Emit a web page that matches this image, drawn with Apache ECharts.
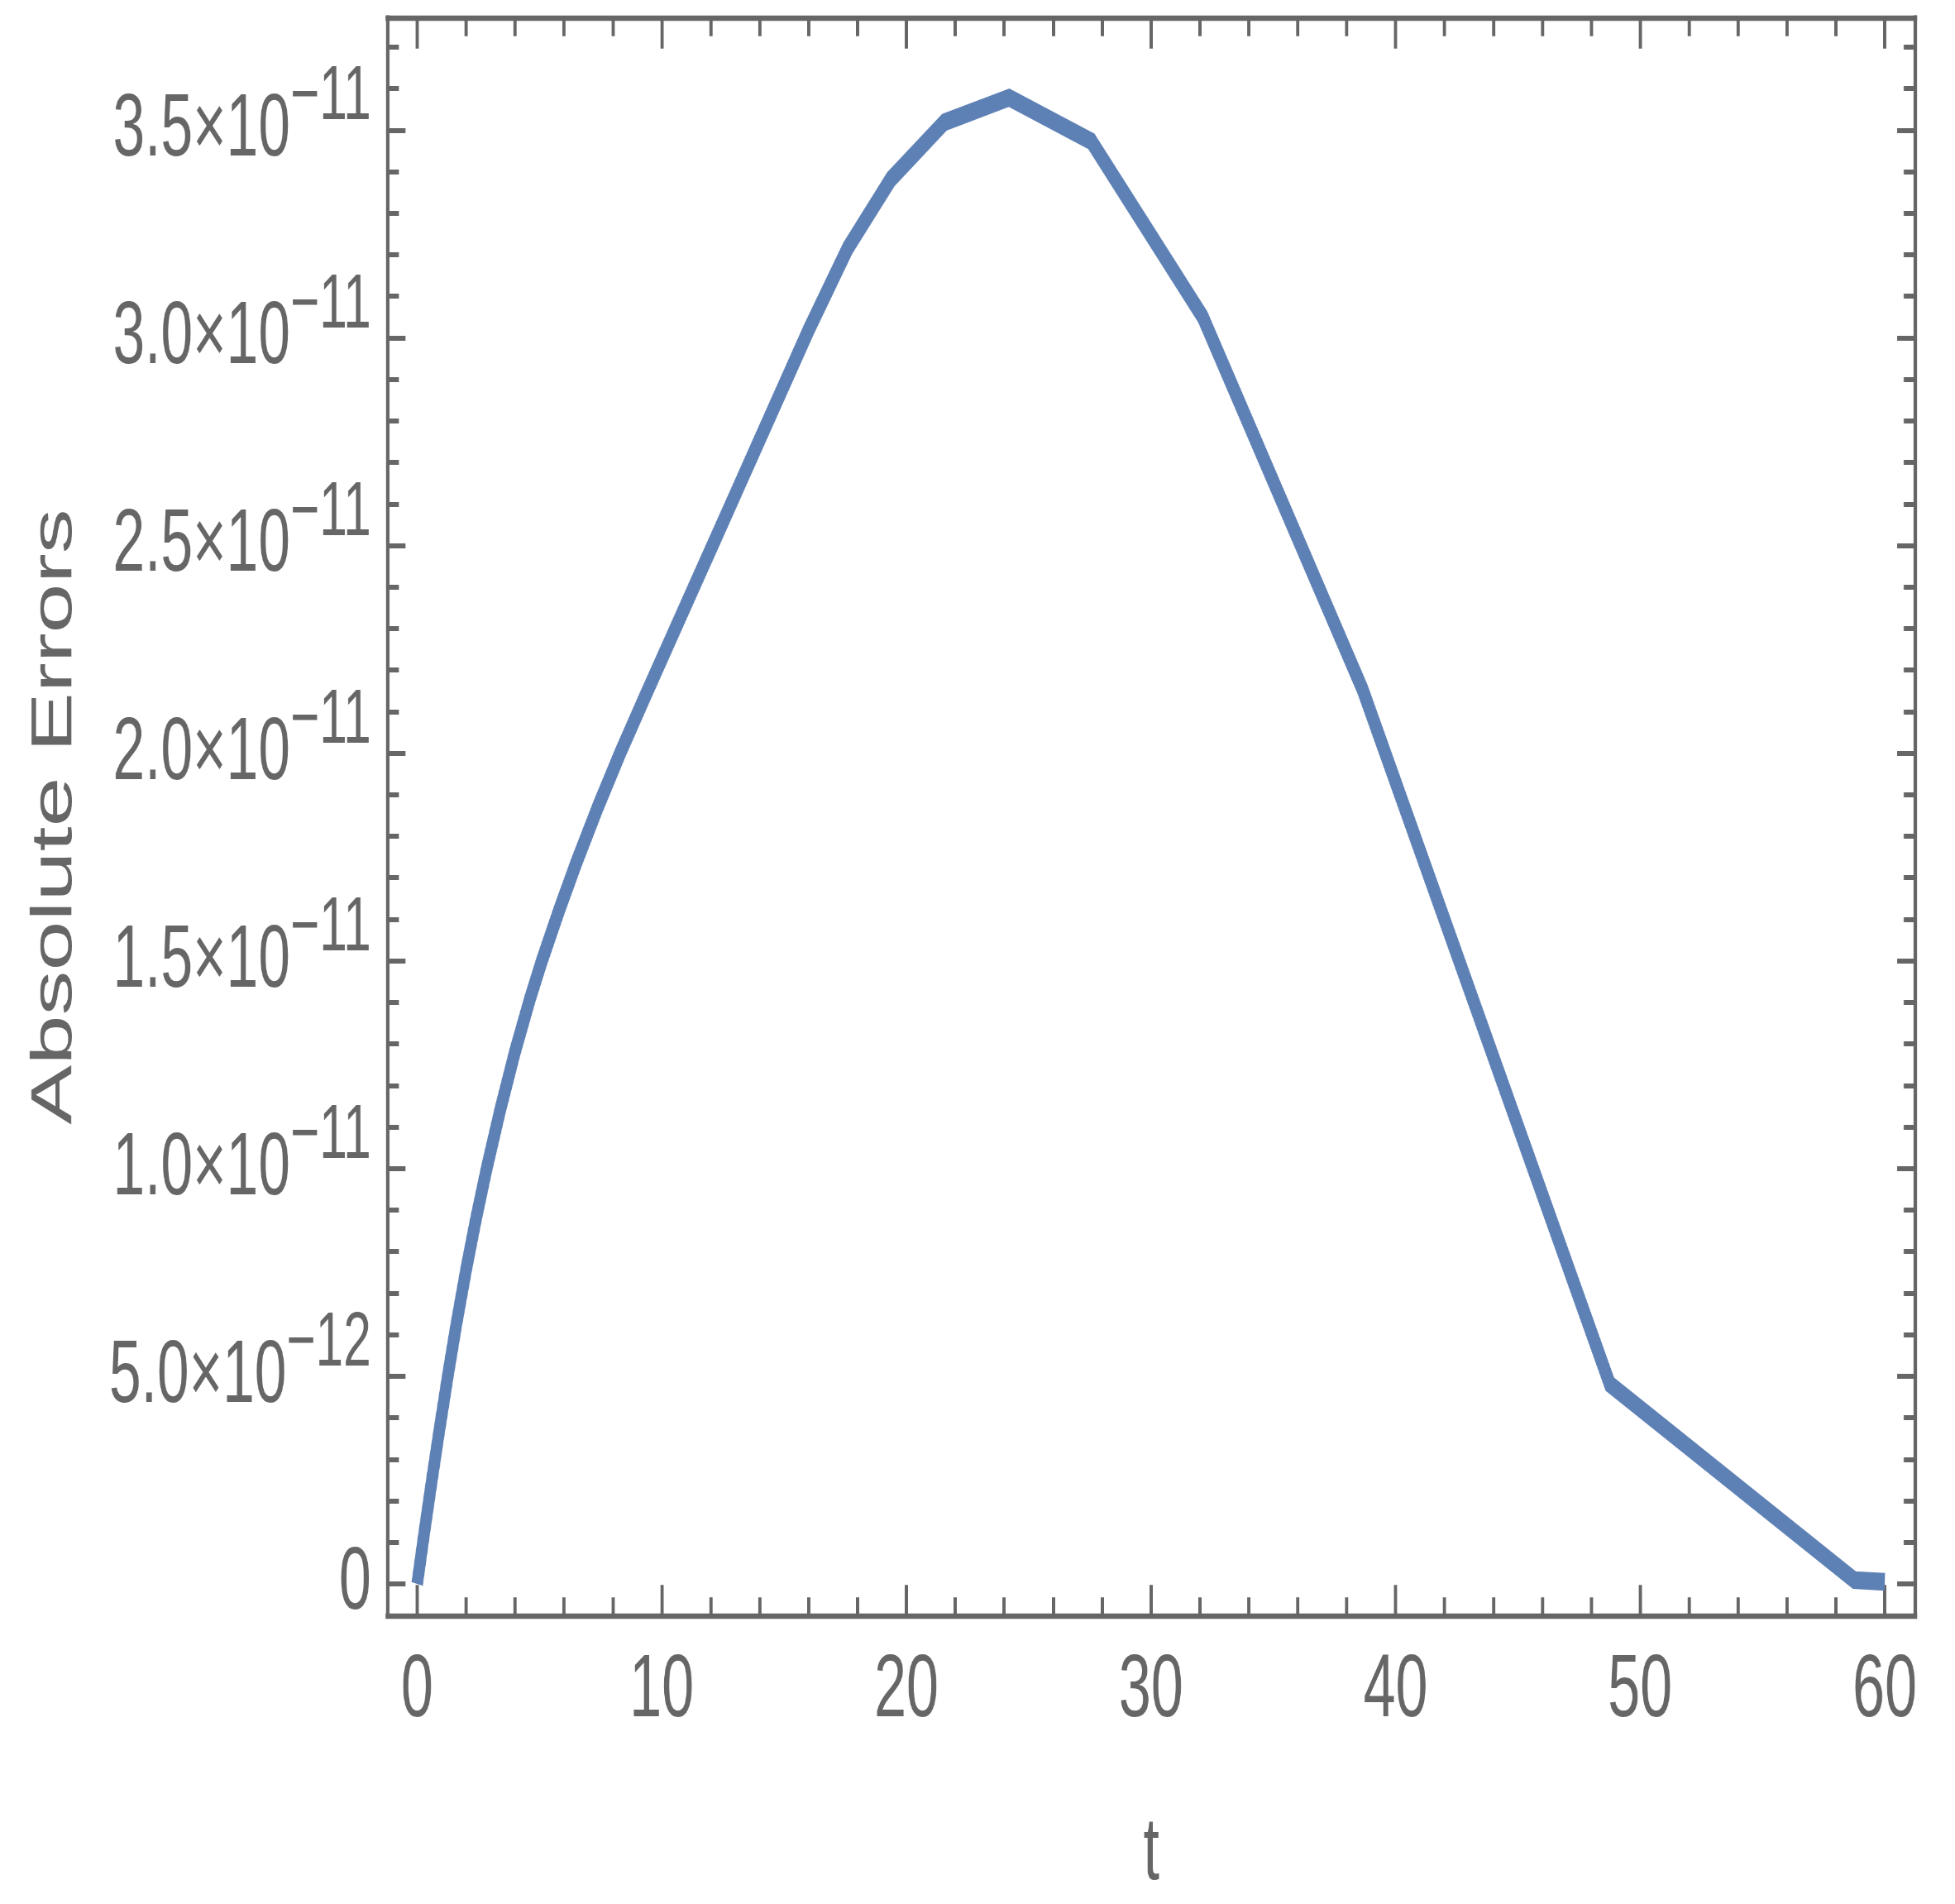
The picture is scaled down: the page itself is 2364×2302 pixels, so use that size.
<!DOCTYPE html>
<html>
<head>
<meta charset="utf-8">
<script src="https://cdn.jsdelivr.net/npm/echarts@6/dist/echarts.min.js"></script>
<style>
html,body{margin:0;padding:0;background:#ffffff;overflow:hidden;width:2364px;height:2302px;}
#wrap{position:absolute;left:0;top:0;width:3641px;height:2302px;transform:scaleX(0.64927);transform-origin:0 0;}
</style>
</head>
<body>
<div id="wrap"></div>
<script>
// ---- data ----
const tValues = [0, 0.3, 0.6, 0.9, 1.25, 1.6, 2.0, 2.4, 2.85, 3.4, 4.0, 4.6, 5.1, 5.8, 6.5, 7.4, 8.3, 9.3, 10.3, 11.3, 12.1, 13.0, 14.0, 15.0, 16.0, 17.6, 19.37, 21.56, 24.2, 27.56, 32.12, 38.65, 48.76, 58.76, 60];
const absErrors = [0, 1.27e-12, 2.49e-12, 3.67e-12, 4.99e-12, 6.24e-12, 7.56e-12, 8.77e-12, 1.002e-11, 1.142e-11, 1.281e-11, 1.406e-11, 1.500e-11, 1.621e-11, 1.735e-11, 1.872e-11, 2.000e-11, 2.134e-11, 2.266e-11, 2.398e-11, 2.503e-11, 2.622e-11, 2.754e-11, 2.886e-11, 3.018e-11, 3.215e-11, 3.382e-11, 3.519e-11, 3.578e-11, 3.473e-11, 3.05e-11, 2.154e-11, 4.81e-12, 9e-14, 5e-14];

const xMajorTicks = [0, 10, 20, 30, 40, 50, 60];
const xTickLabels = ['0', '10', '20', '30', '40', '50', '60'];
const xMinorTicks = [2, 4, 6, 8, 12, 14, 16, 18, 22, 24, 26, 28, 32, 34, 36, 38, 42, 44, 46, 48, 52, 54, 56, 58];

const yMajorTicks = [0, 5e-12, 1e-11, 1.5e-11, 2e-11, 2.5e-11, 3e-11, 3.5e-11];
const yTickMantissa = ['0', '5.0', '1.0', '1.5', '2.0', '2.5', '3.0', '3.5'];
const yTickExponent = ['', '−12', '−11', '−11', '−11', '−11', '−11', '−11'];
const yMinorTicks = [1e-12, 2e-12, 3e-12, 4e-12, 6e-12, 7e-12, 8e-12, 9e-12, 1.1e-11, 1.2e-11, 1.3e-11, 1.4e-11, 1.6e-11, 1.7e-11, 1.8e-11, 1.9e-11, 2.1e-11, 2.2e-11, 2.3e-11, 2.4e-11, 2.6e-11, 2.7e-11, 2.8e-11, 2.9e-11, 3.1e-11, 3.2e-11, 3.3e-11, 3.4e-11, 3.6e-11, 3.7e-11];

const xTitle = 't';
const yTitle = 'Absolute Errors';

// ---- styling ----
const FONT = '"Liberation Sans", Arial, Helvetica, sans-serif';
const GRAY = '#666666';
const LINE = '#5E81B5';
const X_MIN = -1.22, X_MAX = 61.25;
const Y_MIN = -7.63e-13, Y_MAX = 3.770e-11;

const chart = echarts.init(document.getElementById('wrap'), null, {renderer: 'canvas', width: 3641, height: 2302});

function xAxisDef(pos, ticks, len, withLine, withLabel) {
  return {
    type: 'value', position: pos, min: X_MIN, max: X_MAX, gridIndex: 0,
    axisLine: {show: withLine, onZero: false, lineStyle: {color: GRAY, width: 6.4, cap: 'square'}},
    axisTick: {show: true, inside: true, length: len, customValues: ticks, lineStyle: {color: GRAY, width: 6}},
    axisLabel: withLabel ? {
      show: true, customValues: xMajorTicks, margin: 38, color: GRAY, fontSize: 108, fontFamily: FONT,
      formatter: function (v) { const i = xMajorTicks.indexOf(v); return i >= 0 ? xTickLabels[i] : ''; }
    } : {show: false},
    splitLine: {show: false},
    name: withLabel ? xTitle : '',
    nameLocation: 'middle', nameGap: 235,
    nameTextStyle: {color: GRAY, fontSize: 108, fontFamily: FONT}
  };
}
function yAxisDef(pos, ticks, len, withLine, withLabel) {
  return {
    type: 'value', position: pos, min: Y_MIN, max: Y_MAX, gridIndex: 0,
    axisLine: {show: withLine, onZero: false, lineStyle: {color: GRAY, width: 6.4, cap: 'square'}},
    axisTick: {show: true, inside: true, length: len, customValues: ticks, lineStyle: {color: GRAY, width: 6}},
    axisLabel: withLabel ? {
      show: true, customValues: yMajorTicks, margin: 30, color: GRAY, fontFamily: FONT,
      formatter: function (v) {
        let idx = -1;
        for (let i = 0; i < yMajorTicks.length; i++) { if (Math.abs(yMajorTicks[i] - v) < 1e-16) idx = i; }
        if (idx < 0) return '';
        if (!yTickExponent[idx]) return '{z|' + yTickMantissa[idx] + '}';
        return '{m|' + yTickMantissa[idx] + '×10}{s|' + yTickExponent[idx] + '}';
      },
      rich: {
        z: {fontSize: 108, fontFamily: FONT, color: GRAY},
        m: {fontSize: 107, fontFamily: FONT, color: GRAY, lineHeight: 110, verticalAlign: 'bottom'},
        s: {fontSize: 93, fontFamily: FONT, color: GRAY, lineHeight: 95, padding: [0, 0, 47, 0], verticalAlign: 'bottom'}
      }
    } : {show: false},
    splitLine: {show: false},
    name: withLabel ? yTitle : '',
    nameLocation: 'middle', nameGap: 564,
    nameTextStyle: {color: GRAY, fontSize: 108, fontFamily: FONT}
  };
}

const option = {
  animation: false,
  backgroundColor: '#ffffff',
  grid: {left: 721.3, right: 73.9, top: 21.7, bottom: 348.7, containLabel: false},
  xAxis: [
    xAxisDef('bottom', xMajorTicks, 37, true, true),
    xAxisDef('bottom', xMinorTicks, 22, false, false),
    xAxisDef('top', xMajorTicks, 37, true, false),
    xAxisDef('top', xMinorTicks, 22, false, false)
  ],
  yAxis: [
    yAxisDef('left', yMajorTicks, 34, true, true),
    yAxisDef('left', yMinorTicks, 21.6, false, false),
    yAxisDef('right', yMajorTicks, 34, true, false),
    yAxisDef('right', yMinorTicks, 21.6, false, false)
  ],
  series: [{
    type: 'line',
    xAxisIndex: 0, yAxisIndex: 0,
    data: tValues.map((t, i) => [t, absErrors[i]]),
    showSymbol: false, symbol: 'none', smooth: false,
    lineStyle: {color: LINE, width: 21.5, cap: 'butt', join: 'miter'},
    silent: true
  }]
};
chart.setOption(option);
</script>
</body>
</html>
